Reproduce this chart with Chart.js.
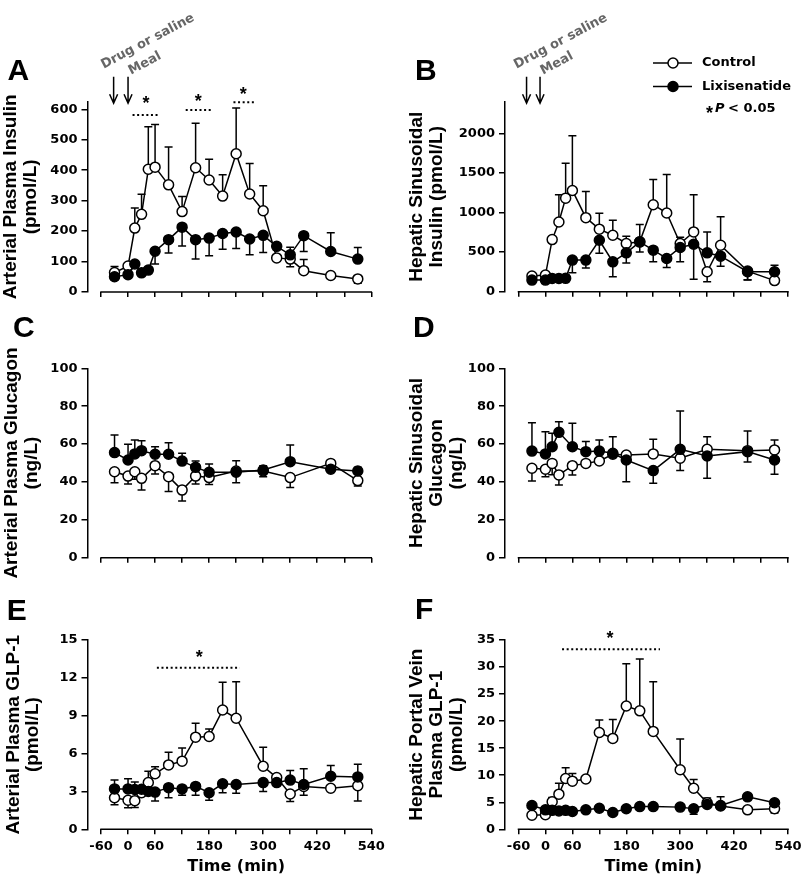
<!DOCTYPE html>
<html>
<head>
<meta charset="utf-8">
<script src="https://cdn.jsdelivr.net/npm/chart.js@4.4.1/dist/chart.umd.min.js"></script>
<style>
  html, body { margin: 0; padding: 0; background: #fff; }
  #wrap { position: relative; width: 807px; height: 885px; }
  #wrap canvas { position: absolute; left: 0; top: 0; }
</style>
</head>
<body>
<div id="wrap">
  <canvas id="panelA" width="807" height="885"></canvas>
  <canvas id="panelB" width="807" height="885"></canvas>
  <canvas id="panelC" width="807" height="885"></canvas>
  <canvas id="panelD" width="807" height="885"></canvas>
  <canvas id="panelE" width="807" height="885"></canvas>
  <canvas id="panelF" width="807" height="885"></canvas>
</div>
<script>
// --- datos ---
// ejes x compartidos
const xTickValues = [-60, 0, 60, 120, 180, 240, 300, 360, 420, 480, 540];
const xTickLabels = [-60, 0, 60, 180, 300, 420, 540];

// A: insulina arterial (pmol/L)
const timesA = [-30, 0, 15, 30, 45, 60, 90, 120, 150, 180, 210, 240, 270, 300, 330, 360, 390, 450, 510];
const ctrlA = [64, 85, 210, 255, 403, 410, 352, 264, 408, 368, 315, 454, 322, 267, 112, 108, 70, 54, 43];
const ctrlAErr = [20, 0, 66, 66, 140, 140, 124, 50, 146, 68, 70, 150, 100, 82, 0, -25, 37, -10, -14];
const lixiA = [50, 57, 92, 63, 72, 134, 172, 213, 172, 177, 192, 197, 174, 186, 150, 122, 185, 133, 108];
const lixiAErr = [-10, -10, 0, 0, 0, -42, -44, -62, -64, -58, -52, -54, -52, -56, 0, 25, -52, 62, 38];
const yTicksA = [0, 100, 200, 300, 400, 500, 600];

// B: insulina sinusoidal hepatica (pmol/L)
const timesB = [-30, 0, 15, 30, 45, 60, 90, 120, 150, 180, 210, 240, 270, 300, 330, 360, 390, 450, 510];
const ctrlB = [197, 210, 658, 880, 1182, 1279, 935, 790, 713, 609, 630, 1099, 994, 609, 755, 252, 587, 260, 140];
const ctrlBErr = [30, 20, 0, 344, 441, 692, 330, 200, 188, 91, 220, 318, 486, 80, 470, -126, 360, -110, 0];
const lixiB = [147, 147, 168, 168, 169, 399, 399, 650, 377, 491, 629, 525, 420, 558, 600, 491, 449, 252, 252];
const lixiBErr = [-20, -20, 0, 0, 0, -160, -101, -163, -188, -130, -126, -148, -113, -181, -444, 264, -126, -105, 83];
const yTicksB = [0, 500, 1000, 1500, 2000];

// C y D: glucagon (ng/L)
const timesCD = [-30, 0, 15, 30, 60, 90, 120, 150, 180, 240, 300, 360, 450, 510];
const ctrlC = [45.4, 43.1, 45.4, 41.9, 48.6, 42.8, 35.7, 43.1, 42.3, 45.8, 45.8, 42.3, 49.8, 40.7];
const ctrlCErr = [-5.8, -4.2, -4, -6.2, -4.4, -7.9, -5.8, -4.2, -3.6, -6.2, -3, -5.2, 0, -2.8];
const lixiC = [55.5, 51.6, 54.8, 56.5, 54.6, 54.6, 51, 47.7, 45.1, 45.1, 46.3, 50.7, 46.7, 45.8];
const lixiCErr = [9.3, 8.3, 7.3, 5.3, 4, 6.1, 4.1, 3.3, 4.4, 6.1, 2.3, 8.8, 0, 2];
const ctrlD = [47.2, 46.7, 49.8, 43.7, 48.6, 49.8, 51.1, 54.6, 54.2, 54.8, 52.5, 57.2, 56.5, 56.9];
const ctrlDErr = [-6.7, -4, -6, -5.3, -4.9, 0, 0, 0, 0, 7.7, -6.5, 6.7, -6, 5.2];
const lixiD = [56.3, 54.8, 58.6, 66.2, 58.6, 56, 56.3, 55.1, 51.6, 46, 57.2, 53.7, 56, 51.6];
const lixiDErr = [15, 11.7, 7.1, 5.6, 12.4, 5.3, 5.8, 8.8, -11.5, -6.7, 20.3, -11.8, 10.9, -7.6];
const yTicksCD = [0, 20, 40, 60, 80, 100];

// E: GLP-1 arterial (pmol/L)
const timesE = [-30, 0, 15, 30, 45, 60, 90, 120, 150, 180, 210, 240, 300, 330, 360, 390, 450, 510];
const ctrlE = [2.5, 2.3, 2.27, 2.9, 3.7, 4.4, 5.1, 5.4, 7.3, 7.35, 9.45, 8.8, 5.0, 4.1, 2.8, 3.4, 3.25, 3.45];
const ctrlEErr = [-0.55, -0.6, -0.55, 0.5, 0.9, 0.55, 1.0, 1.05, 1.1, 0.6, 2.2, 2.9, 1.5, 0, -0.6, -0.7, 0, -1.2];
const lixiE = [3.2, 3.2, 3.15, 3.17, 3.0, 2.95, 3.3, 3.2, 3.4, 2.9, 3.6, 3.55, 3.7, 3.7, 3.9, 3.55, 4.2, 4.15];
const lixiEErr = [0.7, 0.8, 0.6, 0, 0, -0.7, -0.8, -0.5, -0.7, -0.6, -0.7, -0.7, -0.7, 0, 0.75, 1.25, 0.85, 1.0];
const yTicksE = [0, 3, 6, 9, 12, 15];

// F: GLP-1 vena porta (pmol/L)
const timesF = [-30, 0, 15, 30, 45, 60, 90, 120, 150, 180, 210, 240, 300, 330, 360, 390, 450, 510];
const ctrlF = [2.6, 2.7, 5.1, 6.5, 9.4, 8.9, 9.3, 17.9, 16.8, 22.8, 21.9, 18.1, 11.0, 7.6, 4.9, 4.3, 3.6, 3.8];
const ctrlFErr = [0, 0, 0.8, 2.0, 2.0, 1.4, 0, 2.3, 3.5, 7.8, 9.6, 9.2, 5.7, 1.6, 0, 0, 0, -0.8];
const lixiF = [4.4, 3.6, 3.5, 3.4, 3.5, 3.3, 3.6, 3.9, 3.1, 3.8, 4.2, 4.2, 4.1, 3.8, 4.6, 4.4, 6.0, 4.9];
const lixiFErr = [0, 0, 0, 0, 0, 0, 0, 0, 0, 0, 0, 0, 0, -1, 1.2, 1.6, 0, 0];
const yTicksF = [0, 5, 10, 15, 20, 25, 30, 35];

// --- estilos ---
const W = 807, H = 885;
const TICK_FONT = { family: 'DejaVu Sans', size: 13, weight: 'bold' };
const TITLE_FONT = { family: 'Liberation Sans', size: 19, weight: 'bold', lineHeight: 1.05 };

// extras por panel (letra, asteriscos, flechas, leyenda)
const extras = {};

// barras de error (una sola direccion, con signo)
const errorBars = {
  id: 'errorBars',
  beforeDatasetsDraw(chart) {
    const { ctx, scales: { x, y } } = chart;
    ctx.save();
    ctx.strokeStyle = '#000';
    ctx.lineWidth = 1.5;
    chart.data.datasets.forEach(ds => {
      ds.data.forEach((p, i) => {
        const e = ds.errs[i];
        if (!e) return;
        const px = x.getPixelForValue(p.x);
        const y0 = y.getPixelForValue(p.y);
        const y1 = y.getPixelForValue(p.y + e);
        ctx.beginPath();
        ctx.moveTo(px, y0); ctx.lineTo(px, y1);
        ctx.moveTo(px - 4, y1); ctx.lineTo(px + 4, y1);
        ctx.stroke();
      });
    });
    ctx.restore();
  }
};

function drawArrow(ctx, px, yTop, yTip) {
  ctx.beginPath();
  ctx.moveTo(px, yTop); ctx.lineTo(px, yTip);
  ctx.moveTo(px - 4, yTip - 9); ctx.lineTo(px, yTip); ctx.lineTo(px + 4, yTip - 9);
  ctx.stroke();
}

const marks = {
  id: 'marks',
  afterDraw(chart) {
    const p = extras[chart.canvas.id];
    const { ctx, chartArea, scales: { x, y } } = chart;
    ctx.save();
    ctx.strokeStyle = '#000';
    ctx.fillStyle = '#000';
    ctx.lineWidth = 1.5;

    // eje x desplazado: solo de -60 a 540
    const y0 = y.getPixelForValue(0);
    const xa = x.getPixelForValue(xTickValues[0]);
    const xb = x.getPixelForValue(xTickValues[xTickValues.length - 1]);
    ctx.beginPath();
    ctx.moveTo(xa - 0.75, y0); ctx.lineTo(xb + 0.75, y0);
    ctx.stroke();

    // titulo eje x
    if (p.showTime) {
      ctx.font = 'bold 16px "DejaVu Sans"';
      ctx.textAlign = 'center';
      ctx.textBaseline = 'middle';
      ctx.fillText('Time (min)', (xa + xb) / 2, y0 + 37.5);
    }

    // letra del panel
    ctx.font = 'bold 30px "Liberation Sans"';
    ctx.textAlign = 'left';
    ctx.textBaseline = 'alphabetic';
    ctx.fillText(p.letter, p.letterPos[0], p.letterPos[1]);

    // asteriscos de significancia
    (p.sig || []).forEach(s => {
      ctx.save();
      ctx.lineWidth = 2;
      ctx.setLineDash([2, 2.6]);
      const sy = y.getPixelForValue(s.y);
      ctx.beginPath();
      ctx.moveTo(x.getPixelForValue(s.from), sy);
      ctx.lineTo(x.getPixelForValue(s.to), sy);
      ctx.stroke();
      ctx.restore();
      ctx.font = 'bold 18px "Liberation Sans"';
      ctx.textAlign = 'center';
      ctx.textBaseline = 'alphabetic';
      ctx.fillText('*', x.getPixelForValue(s.star[0]), y.getPixelForValue(s.star[1]) + 10);
    });

    // flechas y textos de dosis
    if (p.arrows) {
      const a1 = x.getPixelForValue(p.arrows[0]);
      const a2 = x.getPixelForValue(p.arrows[1]);
      const tip = chartArea.top + 1.5;
      drawArrow(ctx, a1, tip - 26.5, tip);
      drawArrow(ctx, a2, tip - 26.5, tip);
      ctx.fillStyle = '#666';
      ctx.font = 'bold 13px "DejaVu Sans"';
      ctx.textAlign = 'left';
      ctx.textBaseline = 'alphabetic';
      const ang = -28 * Math.PI / 180;
      ctx.save();
      ctx.translate(a1 - 10, chartArea.top - 33);
      ctx.rotate(ang);
      ctx.fillText('Drug or saline', 0, 0);
      ctx.restore();
      ctx.save();
      ctx.translate(a2 + 3, chartArea.top - 27);
      ctx.rotate(ang);
      ctx.fillText('Meal', 0, 0);
      ctx.restore();
      ctx.fillStyle = '#000';
    }

    // leyenda
    if (p.legend) {
      const [lx, ly] = p.legend;
      const rows = [['Control', '#fff'], ['Lixisenatide', '#000']];
      ctx.font = 'bold 13px "DejaVu Sans"';
      ctx.textBaseline = 'middle';
      ctx.textAlign = 'left';
      rows.forEach((r, i) => {
        const ry = ly + i * 23.5;
        ctx.beginPath();
        ctx.moveTo(lx, ry); ctx.lineTo(lx + 39, ry);
        ctx.stroke();
        ctx.beginPath();
        ctx.arc(lx + 20, ry, 5, 0, Math.PI * 2);
        ctx.fillStyle = r[1];
        ctx.fill();
        ctx.stroke();
        ctx.fillStyle = '#000';
        ctx.fillText(r[0], lx + 49, ry);
      });
      const sy = ly + 46;
      ctx.font = 'bold 18px "Liberation Sans"';
      ctx.textBaseline = 'alphabetic';
      ctx.fillText('*', lx + 53, sy + 10);
      ctx.font = 'italic bold 13px "DejaVu Sans"';
      ctx.textBaseline = 'middle';
      ctx.fillText('P', lx + 62, sy);
      ctx.font = 'bold 13px "DejaVu Sans"';
      ctx.fillText('< 0.05', lx + 75, sy);
    }
    ctx.restore();
  }
};

function panel(id, p) {
  extras[id] = p;
  const yW = p.area.left - p.axisLeft;
  const xH = p.showTime ? 47 : 6;
  const series = (label, vals, errs, fill) => ({
    label,
    errs,
    data: p.times.map((t, i) => ({ x: t, y: vals[i] })),
    borderColor: '#000',
    borderWidth: 1.5,
    pointRadius: 5,
    pointBorderWidth: 1.5,
    pointBackgroundColor: fill,
    pointBorderColor: '#000',
    tension: 0,
    fill: false
  });

  return new Chart(document.getElementById(id), {
    type: 'line',
    data: {
      datasets: [
        series('Lixisenatide', p.lixi, p.lixiErr, '#000'),
        series('Control', p.ctrl, p.ctrlErr, '#fff')
      ]
    },
    options: {
      responsive: false,
      animation: false,
      events: [],
      layout: {
        padding: {
          left: p.axisLeft,
          top: p.area.top,
          right: W - p.area.right,
          bottom: H - p.area.bottom - xH
        }
      },
      plugins: { legend: { display: false }, tooltip: { enabled: false } },
      scales: {
        x: {
          type: 'linear',
          min: -90,
          max: 540,
          afterFit: s => { s.height = xH; },
          afterBuildTicks: s => { s.ticks = xTickValues.map(v => ({ value: v })); },
          border: { display: false },
          grid: { drawOnChartArea: false, drawTicks: true, tickLength: 5, color: '#000', lineWidth: 1.5 },
          ticks: {
            display: p.showTime,
            autoSkip: false,
            maxRotation: 0,
            padding: 5,
            color: '#000',
            font: TICK_FONT,
            callback: v => xTickLabels.includes(v) ? String(v) : ''
          }
        },
        y: {
          min: 0,
          max: p.yMax,
          afterFit: s => { s.width = yW; },
          afterBuildTicks: s => { s.ticks = p.yTicks.map(v => ({ value: v })); },
          border: { display: true, color: '#000', width: 1.5 },
          grid: { drawOnChartArea: false, tickLength: 6, color: '#000', lineWidth: 1.5 },
          ticks: { padding: 4, color: '#000', font: TICK_FONT, callback: v => String(v) },
          title: { display: true, text: p.yTitle, color: '#000', font: TITLE_FONT, padding: 0 }
        }
      }
    },
    plugins: [errorBars, marks]
  });
}

panel('panelA', {
  area: { left: 87.5, top: 101.7, right: 371.3, bottom: 292 }, axisLeft: 1,
  yMax: 625, yTicks: yTicksA, yTitle: ['Arterial Plasma Insulin', '(pmol/L)'],
  times: timesA, ctrl: ctrlA, ctrlErr: ctrlAErr, lixi: lixiA, lixiErr: lixiAErr,
  letter: 'A', letterPos: [7.5, 80],
  arrows: [-32, 0],
  sig: [
    { from: 10, to: 70, y: 581, star: [40, 634] },
    { from: 128, to: 187, y: 598, star: [156, 641] },
    { from: 234, to: 284, y: 623, star: [256, 663] }
  ]
});

panel('panelB', {
  area: { left: 505, top: 101.7, right: 788, bottom: 291.7 }, axisLeft: 406.7,
  yMax: 2400, yTicks: yTicksB, yTitle: ['Hepatic Sinusoidal', 'Insulin (pmol/L)'],
  times: timesB, ctrl: ctrlB, ctrlErr: ctrlBErr, lixi: lixiB, lixiErr: lixiBErr,
  letter: 'B', letterPos: [415, 80],
  arrows: [-42, -12],
  legend: [653, 63]
});

panel('panelC', {
  area: { left: 87.5, top: 368.3, right: 371.3, bottom: 557.7 }, axisLeft: 1.7,
  yMax: 100, yTicks: yTicksCD, yTitle: ['Arterial Plasma Glucagon', '(ng/L)'],
  times: timesCD, ctrl: ctrlC, ctrlErr: ctrlCErr, lixi: lixiC, lixiErr: lixiCErr,
  letter: 'C', letterPos: [13, 336.7]
});

panel('panelD', {
  area: { left: 505, top: 368.3, right: 788, bottom: 557.7 }, axisLeft: 406.7,
  yMax: 100, yTicks: yTicksCD, yTitle: ['Hepatic Sinusoidal', 'Glucagon', '(ng/L)'],
  times: timesCD, ctrl: ctrlD, ctrlErr: ctrlDErr, lixi: lixiD, lixiErr: lixiDErr,
  letter: 'D', letterPos: [413, 336.7]
});

panel('panelE', {
  area: { left: 87.5, top: 640, right: 371.3, bottom: 829.3 }, axisLeft: 3.3,
  yMax: 15, yTicks: yTicksE, yTitle: ['Arterial Plasma GLP-1', '(pmol/L)'],
  times: timesE, ctrl: ctrlE, ctrlErr: ctrlEErr, lixi: lixiE, lixiErr: lixiEErr,
  letter: 'E', letterPos: [6.7, 620], showTime: true,
  sig: [{ from: 64, to: 248, y: 12.8, star: [158, 13.95] }]
});

panel('panelF', {
  area: { left: 505, top: 640, right: 788, bottom: 829.3 }, axisLeft: 406.7,
  yMax: 35, yTicks: yTicksF, yTitle: ['Hepatic Portal Vein', 'Plasma GLP-1', '(pmol/L)'],
  times: timesF, ctrl: ctrlF, ctrlErr: ctrlFErr, lixi: lixiF, lixiErr: lixiFErr,
  letter: 'F', letterPos: [415, 619.3], showTime: true,
  sig: [{ from: 37, to: 255, y: 33.3, star: [144, 36.2] }]
});
</script>
</body>
</html>
